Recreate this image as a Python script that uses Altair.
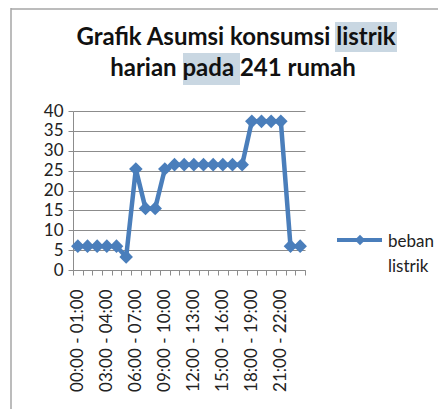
import altair as alt
import pandas as pd

# ---- data ----
jam = ["00:00 - 01:00", "01:00 - 02:00", "02:00 - 03:00", "03:00 - 04:00",
       "04:00 - 05:00", "05:00 - 06:00", "06:00 - 07:00", "07:00 - 08:00",
       "08:00 - 09:00", "09:00 - 10:00", "10:00 - 11:00", "11:00 - 12:00",
       "12:00 - 13:00", "13:00 - 14:00", "14:00 - 15:00", "15:00 - 16:00",
       "16:00 - 17:00", "17:00 - 18:00", "18:00 - 19:00", "19:00 - 20:00",
       "20:00 - 21:00", "21:00 - 22:00", "22:00 - 23:00", "23:00 - 24:00"]
beban = [6, 6, 6, 6, 6, 3.3, 25.4, 15.5, 15.5, 25.4, 26.5, 26.5, 26.5, 26.5,
         26.5, 26.5, 26.5, 26.5, 37.4, 37.4, 37.4, 37.4, 6, 6]
label_tampil = ["00:00 - 01:00", "03:00 - 04:00", "06:00 - 07:00", "09:00 - 10:00",
                "12:00 - 13:00", "15:00 - 16:00", "18:00 - 19:00", "21:00 - 22:00"]
y_ticks = [0, 5, 10, 15, 20, 25, 30, 35, 40]
judul_1 = "Grafik Asumsi konsumsi listrik"
judul_2 = "harian pada 241 rumah"
seri = ["beban", "listrik"]

BLUE = "#4a7ebb"
GRAY = "#8c8c8c"
FONT = "Lato"

df = pd.DataFrame({"jam": jam, "beban": beban})
one = pd.DataFrame({"k": [0]})

label_expr = "indexof(" + str(label_tampil) + ", datum.value) >= 0 ? datum.label : ''"

x_enc = alt.X("jam:N", sort=jam,
              scale=alt.Scale(type="band", paddingInner=0, paddingOuter=0),
              axis=alt.Axis(title=None, labelAngle=-90, labelExpr=label_expr,
                            tickBand="extent", tickSize=5, tickColor=GRAY,
                            domainColor=GRAY, labelPadding=14, labelFont=FONT,
                            labelFontSize=17, labelColor="#222222", grid=False))
y_enc = alt.Y("beban:Q", scale=alt.Scale(domain=[0, 40], nice=False),
              axis=alt.Axis(title=None, values=y_ticks, grid=True, gridColor=GRAY,
                            domainColor=GRAY, tickColor=GRAY, tickSize=5,
                            labelPadding=5, labelFont=FONT, labelFontSize=17,
                            labelColor="#222222"))

base = alt.Chart(df)
line = base.mark_line(color=BLUE, strokeWidth=4.5).encode(x=x_enc, y=y_enc)
pts = base.mark_point(shape="diamond", filled=True, size=185, color=BLUE,
                      opacity=1).encode(x=x_enc, y=y_enc)

ann = alt.Chart(one)
hl1 = ann.mark_rect(color="#c9d7e2").encode(
    x=alt.value(262), x2=alt.value(324), y=alt.value(-89), y2=alt.value(-59))
hl2 = ann.mark_rect(color="#c9d7e2").encode(
    x=alt.value(110), x2=alt.value(167), y=alt.value(-58), y2=alt.value(-26))
t1 = ann.mark_text(font=FONT, fontSize=24, fontWeight="bold", color="#111111",
                   align="center", baseline="middle").encode(
    x=alt.value(163), y=alt.value(-73), text=alt.value(judul_1))
t2 = ann.mark_text(font=FONT, fontSize=24, fontWeight="bold", color="#111111",
                   align="center", baseline="middle").encode(
    x=alt.value(160), y=alt.value(-42), text=alt.value(judul_2))

leg_line = ann.mark_rule(color=BLUE, strokeWidth=4).encode(
    x=alt.value(264), x2=alt.value(309), y=alt.value(129))
leg_pt = ann.mark_point(shape="diamond", filled=True, size=110, color=BLUE,
                        opacity=1).encode(x=alt.value(287), y=alt.value(129))
leg_t1 = ann.mark_text(font=FONT, fontSize=17, color="#222222", align="left",
                       baseline="middle").encode(
    x=alt.value(315), y=alt.value(131), text=alt.value(seri[0]))
leg_t2 = ann.mark_text(font=FONT, fontSize=17, color="#222222", align="left",
                       baseline="middle").encode(
    x=alt.value(315), y=alt.value(156), text=alt.value(seri[1]))

border_l = ann.mark_rule(color="#a6a6a6", strokeWidth=1.5).encode(
    x=alt.value(-62), y=alt.value(-103), y2=alt.value(300))
border_t = ann.mark_rule(color="#a6a6a6", strokeWidth=1.5).encode(
    x=alt.value(-62), x2=alt.value(370), y=alt.value(-102))

chart = alt.layer(
    border_l, border_t, hl1, hl2, t1, t2, line, pts,
    leg_line, leg_pt, leg_t1, leg_t2
).properties(
    width=232, height=159,
    autosize=alt.AutoSizeParams(type="none"),
    padding={"left": 65, "top": 103, "right": 133, "bottom": 139},
    background="white",
).configure_view(stroke=None)

chart.save("out.html", embed_options={"renderer": "svg", "actions": False})
